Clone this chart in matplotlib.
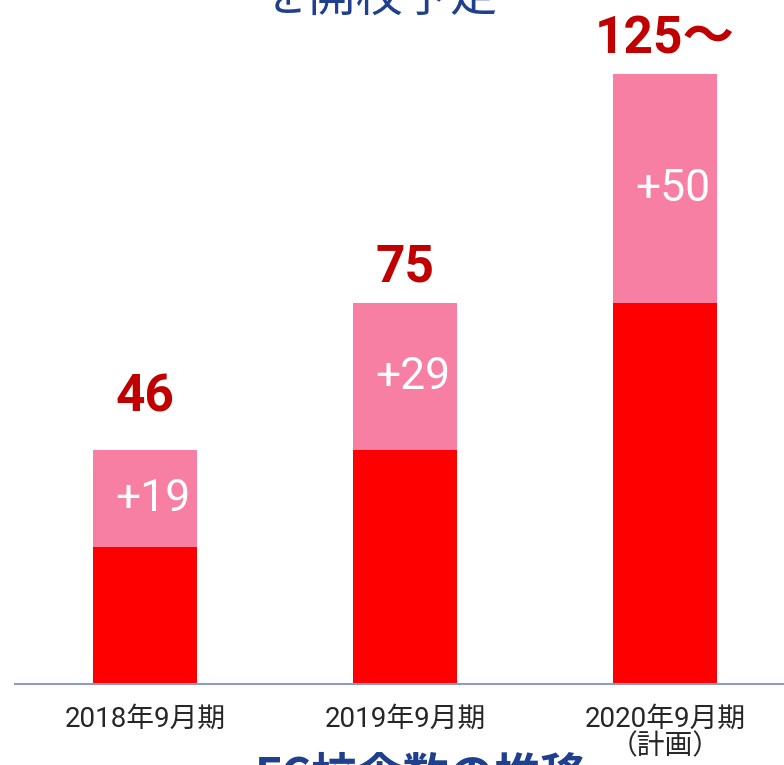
import matplotlib
matplotlib.use('Agg')
import matplotlib.pyplot as plt

# FC校舎数の推移
periods = ['2018年9月期', '2019年9月期', '2020年9月期\n（計画）']
base = [27, 46, 75]          # existing schools (red part)
added = [19, 29, 45]         # new schools (pink part, drawn height)
added_labels = ['+19', '+29', '+50']
total_labels = ['46', '75', '125～']

RED = '#FF0000'
PINK = '#F77FA3'
DARKRED = '#C00000'
NAVY = '#1F3F8F'

plt.rcParams['font.family'] = ['Noto Sans CJK JP', 'DejaVu Sans']
latin = ['Roboto', 'Noto Sans CJK JP']

fig = plt.figure(figsize=(7.84, 7.65), dpi=100)
ax = fig.add_axes([15/784, 81/765, 1 - 15/784, 1 - 81/765])

x = range(len(periods))
ax.bar(x, base, width=0.4, color=RED, zorder=2)
ax.bar(x, added, width=0.4, bottom=base, color=PINK, zorder=2)

gaps = [39, 21, 21]  # pixel gap between bar top and label baseline
for i in x:
    top = base[i] + added[i]
    ax.annotate(total_labels[i], (i, top), xytext=(0, gaps[i] * 0.72),
                textcoords='offset points', ha='center', va='baseline',
                fontsize=37, fontweight='bold', color=DARKRED, family=latin)
    ax.text(i + 0.03, base[i] + added[i] / 2, added_labels[i], ha='center',
            va='center', fontsize=32, color='white', family=latin)

ax.set_xlim(-0.5, 2.458)
ax.set_ylim(0, 684 / 5.08)
for s in ['top', 'right', 'left']:
    ax.spines[s].set_visible(False)
ax.spines['bottom'].set_color('#8E9CC4')
ax.spines['bottom'].set_linewidth(1.5)
ax.set_yticks([])
ax.set_xticks(list(x))
ax.set_xticklabels(periods, fontsize=20, color='#262626', linespacing=1.0,
                   family=latin)
ax.tick_params(axis='x', length=0, pad=16)

# headings cut by the crop
fig.text(380 / 784, 1 - 22 / 765, 'を開校予定', ha='center', va='bottom',
         fontsize=34, color=NAVY)
fig.text(255 / 784, 10 / 765, 'FC校舎数の推移', ha='left', va='top',
         fontsize=33, fontweight='bold', color=NAVY)

fig.savefig('out.png', dpi=100)
